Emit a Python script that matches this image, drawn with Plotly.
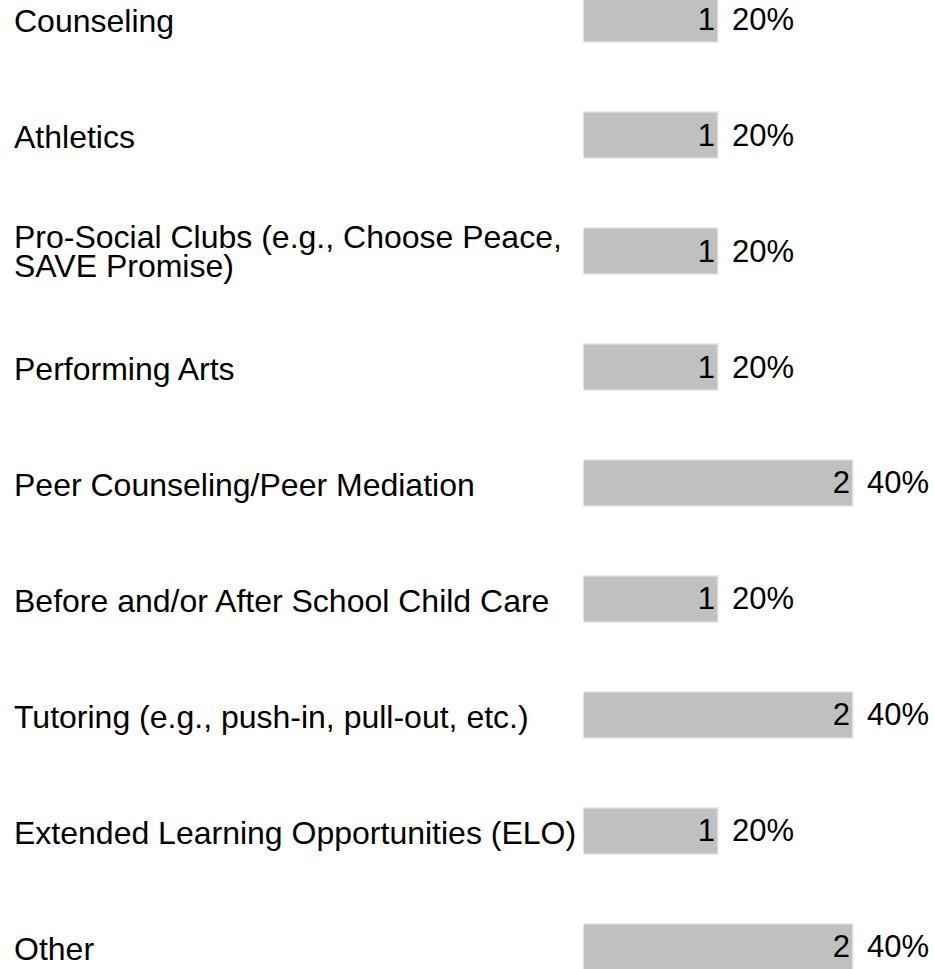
import plotly.graph_objects as go

categories = [
    "Counseling",
    "Athletics",
    "Pro-Social Clubs (e.g., Choose Peace, SAVE Promise)",
    "Performing Arts",
    "Peer Counseling/Peer Mediation",
    "Before and/or After School Child Care",
    "Tutoring (e.g., push-in, pull-out, etc.)",
    "Extended Learning Opportunities (ELO)",
    "Other",
]
label_lines = [
    ["Counseling"],
    ["Athletics"],
    ["Pro-Social Clubs (e.g., Choose Peace,", "SAVE Promise)"],
    ["Performing Arts"],
    ["Peer Counseling/Peer Mediation"],
    ["Before and/or After School Child Care"],
    ["Tutoring (e.g., push-in, pull-out, etc.)"],
    ["Extended Learning Opportunities (ELO)"],
    ["Other"],
]
counts = [1, 1, 1, 1, 2, 1, 2, 1, 2]
percents = ["20%", "20%", "20%", "20%", "40%", "20%", "40%", "20%", "40%"]

FONT = "Liberation Sans, Arial, sans-serif"
FS = 32

fig = go.Figure()
fig.add_trace(go.Bar(
    x=counts, y=categories, orientation="h",
    marker=dict(color="#c0c0c0", line=dict(color="#ebebeb", width=1.5)),
    text=[str(c) for c in counts], textposition="inside", insidetextanchor="end",
    textfont=dict(family=FONT, size=FS - 1, color="#000000"),
    constraintext="none", cliponaxis=False, hoverinfo="skip",
))

annotations = []
for cat, c, p in zip(categories, counts, percents):
    annotations.append(dict(
        x=c, y=cat, xref="x", yref="y", text=p, showarrow=False,
        xanchor="left", yanchor="middle", xshift=12,
        font=dict(family=FONT, size=FS - 1, color="#000000"),
    ))

for cat, lines in zip(categories, label_lines):
    n = len(lines)
    for k, line in enumerate(lines):
        shift = (n - 1) / 2 * 29 - k * 29
        annotations.append(dict(
            x=0, y=cat, xref="paper", yref="y", text=line, showarrow=False,
            xanchor="left", yanchor="middle", xshift=-571, yshift=shift + (0 if n > 1 else -2),
            font=dict(family=FONT, size=FS, color="#000000"),
        ))

fig.update_layout(
    width=934, height=969,
    margin=dict(l=583, r=0, t=0, b=0),
    paper_bgcolor="white", plot_bgcolor="white",
    showlegend=False, bargap=0.6,
    xaxis=dict(range=[0, 2.6], visible=False, fixedrange=True),
    yaxis=dict(categoryorder="array", categoryarray=categories,
               range=[8.19, -0.164], visible=False, fixedrange=True),
    annotations=annotations,
)

fig.write_html("out.html", config={"displayModeBar": False},
               post_script="document.body.style.margin='0px';")
